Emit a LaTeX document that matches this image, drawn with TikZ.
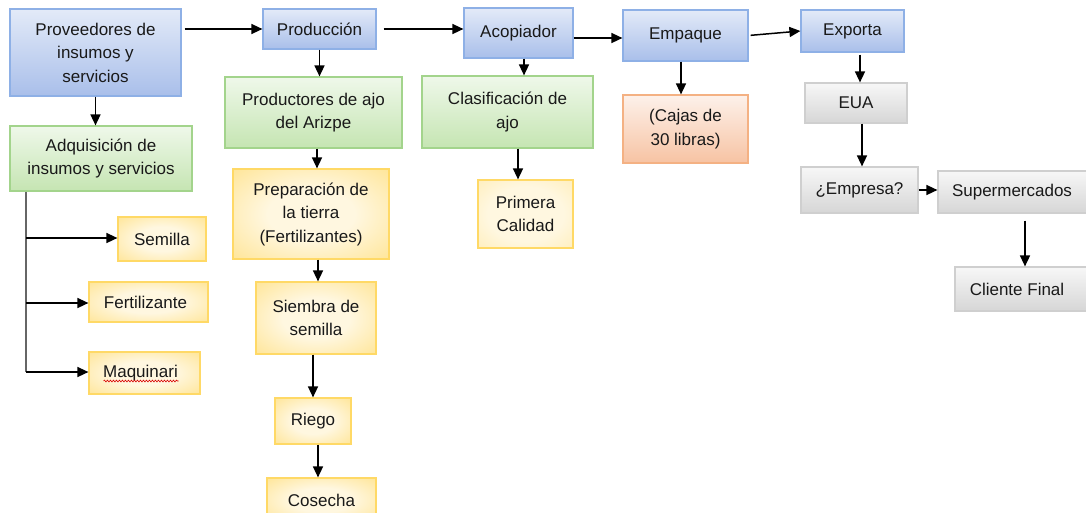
\documentclass[tikz,border=0pt]{standalone}
\usepackage{fontspec}
\setmainfont{Liberation Sans}
\usetikzlibrary{arrows.meta,shadings,decorations.pathmorphing}
\definecolor{bluedraw}{HTML}{8EB0E6}
\definecolor{bluetop}{HTML}{E3EAF8}
\definecolor{bluebot}{HTML}{A9BFEA}
\definecolor{greendraw}{HTML}{A3D48C}
\definecolor{greentop}{HTML}{EFF8EA}
\definecolor{greenbot}{HTML}{C5E5B2}
\definecolor{yeldraw}{HTML}{FFD966}
\definecolor{yelin}{HTML}{FFF7E0}
\definecolor{yelout}{HTML}{FFD862}
\definecolor{ordraw}{HTML}{F4B183}
\definecolor{ortop}{HTML}{FDF1EA}
\definecolor{orbot}{HTML}{F7C3A3}
\definecolor{graydraw}{HTML}{CFCFCF}
\definecolor{graytop}{HTML}{F7F7F7}
\definecolor{graybot}{HTML}{D6D6D6}
\pgfdeclareradialshading{yelshade}{\pgfpoint{0bp}{0bp}}{color(0bp)=(yelin); color(14bp)=(yelin); color(52bp)=(yelout); color(100bp)=(yelout)}
\pgfdeclareradialshading{yelshadeB}{\pgfpoint{0bp}{0bp}}{color(0bp)=(yelin); color(20bp)=(yelin); color(60bp)=(yelout!75!white); color(100bp)=(yelout!75!white)}
\begin{document}
\begin{tikzpicture}[x=1pt,y=-1pt,
  box/.style={draw, line width=1.2pt, align=center, inner sep=2pt,
    font=\fontsize{17}{23.5}\selectfont, text=black!90},
  bluebox/.style={box, draw=bluedraw, top color=bluetop, bottom color=bluebot},
  greenbox/.style={box, draw=greendraw, top color=greentop, bottom color=greenbot},
  yelbox/.style={box, draw=yeldraw, shading=yelshade},
  orbox/.style={box, draw=ordraw, top color=ortop, bottom color=orbot},
  graybox/.style={box, draw=graydraw, top color=graytop, bottom color=graybot},
  sz/.style 2 args={minimum width=#1, minimum height=#2},
  arr/.style={-{Triangle[length=11pt,width=10pt]}, line width=1.5pt, black},
  trunk/.style={line width=1.5pt, gray!80!black}
]
\useasboundingbox (0,0) rectangle (1086,512);
\clip (0,0) rectangle (1086,512);

% column 1
\node[bluebox, sz={171pt}{87pt}] (prov) at (95.5,52.5) {Proveedores de\\insumos y\\servicios};
\node[greenbox, sz={182pt}{65pt}] (adq) at (101,158.5) {Adquisición de\\insumos y servicios};
\node[yelbox, sz={88pt}{44pt}] (sem) at (162,239) {Semilla};
\node[yelbox, sz={119pt}{40pt}] (fert) at (148.5,302) {\hspace*{-6pt}Fertilizante};
\node[yelbox, sz={111pt}{42pt}] (maq) at (144.5,373) {\hspace*{-8pt}Maquinari};

% column 2
\node[bluebox, sz={113pt}{40pt}] (prod) at (319.5,29) {Producción};
\node[greenbox, sz={177pt}{71pt}] (ajo) at (313.5,112.5) {Productores de ajo\\del Arizpe};
\node[yelbox, sz={156pt}{90pt}] (prep) at (311,214) {Preparación de\\la tierra\\(Fertilizantes)};
\node[yelbox, sz={120pt}{72pt}] (siem) at (316,318) {Siembra de\\semilla};
\node[yelbox, sz={76pt}{46pt}] (riego) at (313,421) {Riego};
\node[yelbox, sz={109pt}{44pt}] (cos) at (321.5,500) {Cosecha};

% column 3
\node[bluebox, sz={109pt}{50pt}] (acop) at (518.5,33) {Acopiador};
\node[greenbox, sz={171pt}{72pt}] (clas) at (507.5,112) {Clasificación de\\ajo};
\node[yelbox, shading=yelshadeB, sz={95pt}{68pt}] (prim) at (525.5,214) {Primera\\Calidad};

% column 4
\node[bluebox, sz={125pt}{51pt}] (emp) at (685.5,35.5) {Empaque};
\node[orbox, sz={125pt}{68pt}] (cajas) at (685.5,129) {(Cajas de\\30 libras)};

% column 5
\node[bluebox, sz={103pt}{42pt}] (exp) at (852.5,31) {Exporta};
\node[graybox, sz={102pt}{40pt}] (eua) at (856,103) {EUA};
\node[graybox, sz={117pt}{46pt}] (empr) at (859.5,190) {¿Empresa?};
\node[graybox, sz={156pt}{42pt}] (sup) at (1016,192) {\hspace*{-8pt}Supermercados};
\node[graybox, sz={138pt}{44pt}] (cli) at (1024,289) {\hspace*{-14pt}Cliente Final};

% spell-check underline
\draw[red!85!black, line width=0.6pt, decorate,
  decoration={snake, amplitude=0.9pt, segment length=3pt}]
  ([xshift=-41pt,yshift=-8pt]maq.center) -- ([xshift=34pt,yshift=-8pt]maq.center);

% main row arrows
\draw[arr, shorten <=3pt] (prov.east |- prod.west) -- (prod.west);
\draw[arr, shorten <=7pt] (prod.east) -- (prod.east -| acop.west);
\draw[arr] ([yshift=-5pt]acop.east) -- ([yshift=-5pt]acop.east -| emp.west);
\draw[arr, shorten <=2pt] (emp.east) -- (exp.west);

% verticals
\draw[arr] (prov.south) -- (prov.south |- adq.north);
\draw[arr] (prod.south) -- (prod.south |- ajo.north);
\draw[arr] ([xshift=3.5pt]ajo.south) -- ([xshift=3.5pt]ajo.south |- prep.north);
\draw[arr] ([xshift=2pt]siem.north |- prep.south) -- ([xshift=2pt]siem.north);
\draw[arr] (riego.north |- siem.south) -- (riego.north);
\draw[arr] ([xshift=5pt]riego.south) -- ([xshift=5pt]riego.south |- cos.north);
\draw[arr] ([xshift=5.5pt]acop.south) -- ([xshift=5.5pt]acop.south |- clas.north);
\draw[arr] ([xshift=-7.5pt]prim.north |- clas.south) -- ([xshift=-7.5pt]prim.north);
\draw[arr] ([xshift=-4.5pt]emp.south) -- ([xshift=-4.5pt]emp.south |- cajas.north);
\draw[arr, shorten <=2pt] ([xshift=7.5pt]exp.south) -- ([xshift=7.5pt]exp.south |- eua.north);
\draw[arr] ([xshift=6pt]eua.south) -- ([xshift=6pt]eua.south |- empr.north);
\draw[arr] (empr.east) -- (empr.east -| sup.west);
\draw[arr, shorten <=7pt] ([xshift=9pt]sup.south) -- ([xshift=9pt]sup.south |- cli.north);

% branches from Adquisicion
\coordinate (b1) at (26,238);
\coordinate (b2) at (26,303);
\coordinate (b3) at (26,372);
\draw[trunk] (adq.south -| b1) -- (b3);
\draw[arr] (b1) -- (b1 -| sem.west);
\draw[arr] (b2) -- (b2 -| fert.west);
\draw[arr] (b3) -- (b3 -| maq.west);
\end{tikzpicture}
\end{document}
